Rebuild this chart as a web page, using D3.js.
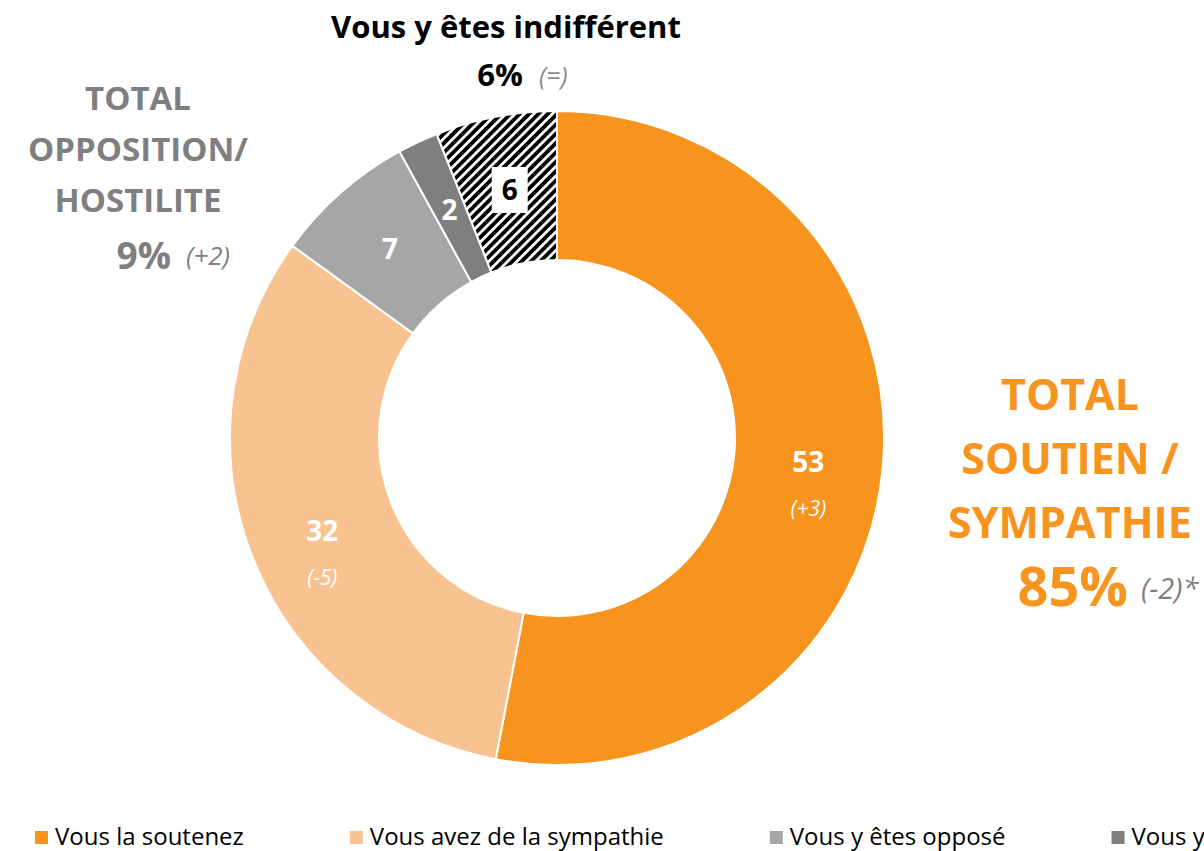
<!DOCTYPE html>
<html>
<head>
<meta charset="utf-8">
<script src="https://cdn.jsdelivr.net/npm/d3@7"></script>
<style>
  html, body { margin: 0; padding: 0; background: #fff; }
  svg { display: block; }
</style>
</head>
<body>
<svg id="chart"></svg>
<script>
// data
var categories = ["Vous la soutenez", "Vous avez de la sympathie", "Vous y êtes opposé", "Vous y êtes hostile", "Vous y êtes indifférent"];
var values = [53, 32, 7, 2, 6];
var changes = ["(+3)", "(-5)", null, null, null];
var colors = ["#F7941D", "#F9C291", "#A6A6A6", "#7F7F7F", "url(#hatch)"];
var legendColors = ["#F7941D", "#F9C291", "#A6A6A6", "#7F7F7F", "#000000"];

var totalSoutien = ["TOTAL", "SOUTIEN /", "SYMPATHIE"];
var totalSoutienValue = ["85%", "(-2)*"];
var totalOpposition = ["TOTAL", "OPPOSITION/", "HOSTILITE"];
var totalOppositionValue = ["9%", "(+2)"];
var indifferentTitle = "Vous y êtes indifférent";
var indifferentValue = ["6%", "(=)"];

var params = {
    width: 1204,
    height: 851,
    cx: 557,
    cy: 438,
    outerR: 327,
    innerR: 178,
    font: "'Open Sans', 'DejaVu Sans', sans-serif",
    orange: "#F7941D",
    grey: "#7F7F7F"
};

var svg = d3.select("#chart")
    .attr("width", params.width)
    .attr("height", params.height);

// hatch pattern for the "indifferent" slice
var defs = svg.append("defs");
var pat = defs.append("pattern")
    .attr("id", "hatch")
    .attr("patternUnits", "userSpaceOnUse")
    .attr("width", 6.6)
    .attr("height", 6.6)
    .attr("patternTransform", "rotate(45)");
pat.append("rect").attr("width", 6.6).attr("height", 6.6).attr("fill", "#fff");
pat.append("rect").attr("x", 0).attr("width", 3.8).attr("height", 6.6).attr("fill", "#000");

var pie = d3.pie().sort(null).value(function(d) { return d; });
var arcs = pie(values);
var arc = d3.arc().innerRadius(params.innerR).outerRadius(params.outerR);
var midR = (params.innerR + params.outerR) / 2;
var labelArc = d3.arc().innerRadius(midR).outerRadius(midR);

var g = svg.append("g").attr("transform", "translate(" + params.cx + "," + params.cy + ")");

g.selectAll("path.slice").data(arcs).enter()
    .append("path")
    .attr("class", "slice")
    .attr("d", arc)
    .attr("fill", function(d, i) { return colors[i]; })
    .attr("stroke", "#fff")
    .attr("stroke-width", 2);

// value labels
var labels = g.selectAll("g.lbl").data(arcs).enter()
    .append("g")
    .attr("class", "lbl")
    .attr("transform", function(d) { return "translate(" + labelArc.centroid(d) + ")"; });

labels.each(function(d, i) {
    var sel = d3.select(this);
    if (i === 4) {
        sel.append("rect")
            .attr("x", -18).attr("y", -23)
            .attr("width", 36).attr("height", 46)
            .attr("fill", "#fff");
    }
    sel.append("text")
        .attr("text-anchor", "middle")
        .attr("dy", "0.36em")
        .attr("font-family", params.font)
        .attr("font-weight", "bold")
        .attr("font-size", 28)
        .attr("fill", i === 4 ? "#000" : "#fff")
        .text(d.data);
    if (changes[i]) {
        sel.append("text")
            .attr("text-anchor", "middle")
            .attr("y", 47)
            .attr("dy", "0.36em")
            .attr("font-family", params.font)
            .attr("font-style", "italic")
            .attr("font-size", 21)
            .attr("fill", "#fff")
            .text(changes[i]);
    }
});

// total soutien (right)
var rightGroup = svg.append("g");
rightGroup.selectAll("text.t").data(totalSoutien).enter()
    .append("text")
    .attr("x", 1070)
    .attr("y", function(d, i) { return 410 + i * 64; })
    .attr("text-anchor", "middle")
    .attr("font-family", params.font)
    .attr("font-weight", "bold")
    .attr("font-size", 43)
    .attr("fill", params.orange)
    .text(function(d) { return d; });
rightGroup.append("text")
    .attr("x", 1128).attr("y", 606)
    .attr("text-anchor", "end")
    .attr("font-family", params.font)
    .attr("font-weight", "bold")
    .attr("font-size", 54)
    .attr("fill", params.orange)
    .text(totalSoutienValue[0]);
rightGroup.append("text")
    .attr("x", 1141).attr("y", 599)
    .attr("font-family", params.font)
    .attr("font-style", "italic")
    .attr("font-size", 29)
    .attr("fill", params.grey)
    .text(totalSoutienValue[1]);

// total opposition (left)
var leftGroup = svg.append("g");
leftGroup.selectAll("text.t").data(totalOpposition).enter()
    .append("text")
    .attr("x", 138)
    .attr("y", function(d, i) { return 110 + i * 51; })
    .attr("text-anchor", "middle")
    .attr("font-family", params.font)
    .attr("font-weight", "bold")
    .attr("font-size", 33)
    .attr("fill", params.grey)
    .text(function(d) { return d; });
leftGroup.append("text")
    .attr("x", 171).attr("y", 269)
    .attr("text-anchor", "end")
    .attr("font-family", params.font)
    .attr("font-weight", "bold")
    .attr("font-size", 37)
    .attr("fill", params.grey)
    .text(totalOppositionValue[0]);
leftGroup.append("text")
    .attr("x", 186).attr("y", 265)
    .attr("font-family", params.font)
    .attr("font-style", "italic")
    .attr("font-size", 26)
    .attr("fill", params.grey)
    .text(totalOppositionValue[1]);

// indifferent (top)
var topGroup = svg.append("g");
topGroup.append("text")
    .attr("x", 506).attr("y", 38)
    .attr("text-anchor", "middle")
    .attr("font-family", params.font)
    .attr("font-weight", "bold")
    .attr("font-size", 31)
    .attr("fill", "#000")
    .text(indifferentTitle);
topGroup.append("text")
    .attr("x", 523).attr("y", 86)
    .attr("text-anchor", "end")
    .attr("font-family", params.font)
    .attr("font-weight", "bold")
    .attr("font-size", 31)
    .attr("fill", "#000")
    .text(indifferentValue[0]);
topGroup.append("text")
    .attr("x", 539).attr("y", 85)
    .attr("font-family", params.font)
    .attr("font-style", "italic")
    .attr("font-size", 25)
    .attr("fill", "#8c8c8c")
    .text(indifferentValue[1]);

// legend (runs off the right edge, as in the original)
var legend = svg.append("g");
var lx = 35;
categories.forEach(function(c, i) {
    if (lx >= params.width) return; // nothing of it would be visible
    var item = legend.append("g").attr("transform", "translate(" + lx + ",0)");
    item.append("rect")
        .attr("x", 0).attr("y", 831)
        .attr("width", 13).attr("height", 13)
        .attr("fill", legendColors[i]);
    var t = item.append("text")
        .attr("x", 20).attr("y", 845)
        .attr("font-family", params.font)
        .attr("font-size", 24)
        .attr("fill", "#000")
        .text(c);
    lx += 20 + t.node().getComputedTextLength() + 106;
});
</script>
</body>
</html>
